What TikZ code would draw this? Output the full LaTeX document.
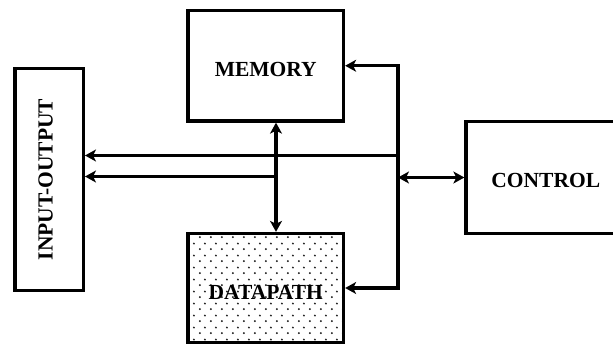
\documentclass[tikz,border=0pt]{standalone}
\usepackage{fontspec}
\setmainfont{Liberation Serif}
\usepackage{graphicx}
\usetikzlibrary{arrows.meta, patterns}
\pgfdeclarepatternformonly{bdots}{\pgfpointorigin}{\pgfqpoint{11pt}{12pt}}{\pgfqpoint{11pt}{12pt}}{
  \pgfpathcircle{\pgfqpoint{2pt}{2pt}}{1.15pt}
  \pgfpathcircle{\pgfqpoint{7.5pt}{8pt}}{1.15pt}
  \pgfusepath{fill}
}
\tikzset{
  >={Stealth[length=11pt, width=12pt, inset=3pt]}, % bold arrow heads
  block/.style={draw, line width=3.3pt, inner sep=0pt}, % the four units
  bus/.style={line width=3.2pt}, % the connecting lines
  every label/.style={font=\bfseries\fontsize{21.5}{25}\selectfont}, % unit names
}

\begin{document}
\begin{tikzpicture}[x=1pt, y=-1pt]
  \useasboundingbox (0,0) rectangle (613,346);
  \clip (0,0) rectangle (613,346);

  \node[block, minimum width=155.5pt, minimum height=110.5pt,
    label={[yshift=-3.5pt]center:MEMORY}] (mem) at (265.75,65.75) {};
  \node[block, minimum width=155.5pt, minimum height=109pt,
    pattern=bdots, pattern color=black!85,
    label={[yshift=-4.5pt]center:DATAPATH}] (dp) at (265.75,288) {};
  \node[block, minimum width=68.3pt, minimum height=222.5pt,
    label={[xshift=-3.5pt]center:\rotatebox{90}{INPUT-OUTPUT}}] (io) at (49.2,179.5) {};
  \node[block, minimum width=155.5pt, minimum height=111.6pt,
    label={[xshift=2pt, yshift=-3pt]center:CONTROL}] (ctrl) at (543.75,177.5) {};

  \coordinate (bus) at (398,177.5);
  \coordinate (iotop) at (398,155.5);
  \coordinate (dbus) at (276,176.5);

  \draw[bus, ->] (bus) |- (mem.east);
  \draw[bus, ->] (bus) |- (dp.east);
  \draw[bus, <->] (bus) -- (ctrl.west);
  \draw[bus, ->] (iotop) -- (iotop -| io.east);
  \draw[bus, <->] (mem.south -| dbus) -- (dp.north -| dbus);
  \draw[bus, ->] (dbus) -- (dbus -| io.east);
\end{tikzpicture}
\end{document}
